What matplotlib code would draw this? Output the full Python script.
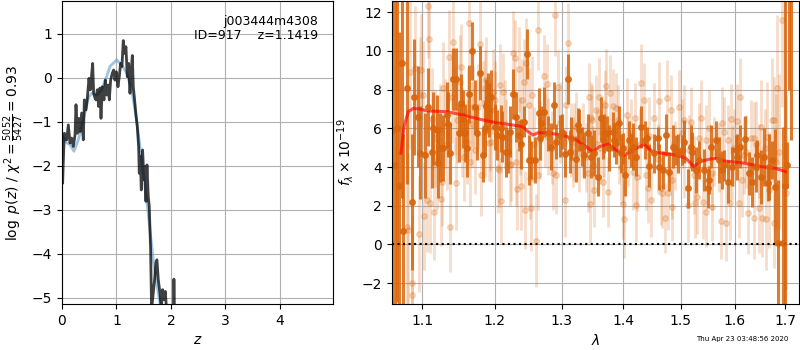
import matplotlib
matplotlib.use("Agg")
import matplotlib.pyplot as plt
from matplotlib.ticker import NullLocator, FixedLocator, FixedFormatter

# --- p(z) panel ---
pz_z = [0.012, 0.024, 0.043, 0.086, 0.116, 0.147, 0.177, 0.208, 0.239, 0.257,
        0.281, 0.306, 0.330, 0.361, 0.391, 0.410, 0.440, 0.465, 0.495, 0.520,
        0.544, 0.563, 0.581, 0.606, 0.624, 0.648, 0.673, 0.697, 0.716, 0.740,
        0.771, 0.795, 0.820, 0.844, 0.869, 0.893, 0.924, 0.948, 0.972, 0.997,
        1.028, 1.052, 1.076, 1.101, 1.125, 1.150, 1.174, 1.199, 1.223, 1.248,
        1.272, 1.291, 1.309, 1.333, 1.358, 1.382, 1.407, 1.419, 1.437, 1.456,
        1.480, 1.505, 1.523, 1.541, 1.560, 1.584, 1.602, 1.627, 1.645, 1.676,
        1.700, 1.725, 1.743, 1.768, 1.798, 1.823, 1.847, 1.872, 1.896, 1.920,
        1.980, 2.045, 2.055, 2.067]
pz_logp = [-2.39, -1.90, -1.26, -1.41, -1.07, -1.48, -1.37, -1.56, -1.30, -0.61,
           -1.26, -0.92, -1.22, -0.80, -1.41, -0.50, -0.73, -0.46, -0.01, -0.27,
           0.07, 0.33, -0.35, -0.46, -0.50, -0.27, -0.65, -0.23, -0.92, -0.20,
           -0.50, -0.05, -0.39, -0.16, -0.50, -0.05, 0.11, 0.18, -0.05, 0.14,
           -0.20, 0.03, 0.33, 0.26, 0.85, 0.56, 0.71, 0.03, 0.33, -0.35,
           0.18, 0.51, -0.20, -0.50, -0.84, -1.11, -1.56, -2.17, -1.79, -2.55,
           -1.64, -2.32, -2.02, -2.81, -1.98, -2.70, -2.92, -3.91, -5.27, -4.89,
           -4.59, -4.21, -4.14, -4.59, -4.89, -5.27, -4.82, -5.05, -4.86, -5.27,
           -6.00, -5.60, -4.58, -5.50]

smooth_z = [0.012, 0.086, 0.147, 0.220, 0.300, 0.391, 0.483, 0.544, 0.636, 0.728,
            0.820, 0.881, 1.003, 1.095, 1.187, 1.278, 1.370, 1.462, 1.554, 1.615,
            1.676, 1.737, 1.798, 1.859]
smooth_logp = [-1.33, -1.48, -1.52, -1.67, -1.41, -0.95, -0.46, -0.35, -0.39, -0.27,
               0.03, 0.26, 0.41, 0.30, 0.11, -0.27, -0.95, -1.86, -2.77, -3.45,
               -4.14, -4.67, -5.12, -5.50]

obj_name = "j003444m4308"
obj_id = 917
z_best = 1.1419
chi2_num, chi2_den = 5052, 5427

# --- spectrum panel: binned (dark) points ---
wave_bin = [1.0612, 1.0645, 1.0670, 1.0696, 1.0731, 1.0751, 1.0795, 1.0864, 1.0890, 1.0938,
            1.0968, 1.1034, 1.1074, 1.1123, 1.1190, 1.1234, 1.1279, 1.1325, 1.1373, 1.1414,
            1.1460, 1.1491, 1.1528, 1.1574, 1.1634, 1.1682, 1.1714, 1.1746, 1.1784, 1.1831,
            1.1879, 1.1916, 1.1950, 1.2031, 1.2108, 1.2156, 1.2215, 1.2263, 1.2313, 1.2387,
            1.2470, 1.2500, 1.2586, 1.2646, 1.2672, 1.2726, 1.2829, 1.2880, 1.2968, 1.3057,
            1.3098, 1.3135, 1.3229, 1.3282, 1.3362, 1.3415, 1.3470, 1.3523, 1.3577, 1.3632,
            1.3686, 1.3768, 1.3823, 1.3879, 1.3962, 1.4029, 1.4101, 1.4157, 1.4214, 1.4300,
            1.4373, 1.4443, 1.4529, 1.4616, 1.4686, 1.4734, 1.4792, 1.4851, 1.4940, 1.5048,
            1.5127, 1.5182, 1.5211, 1.5273, 1.5333, 1.5425, 1.5505, 1.5549, 1.5643, 1.5704,
            1.5766, 1.5880, 1.5956, 1.6052, 1.6098, 1.6199, 1.6277, 1.6341, 1.6420, 1.6506,
            1.6572, 1.6671, 1.6791, 1.6858, 1.6953, 1.6990, 1.7028, 1.7075, 1.7110,
            # bars without a visible marker
            1.1141, 1.1214, 1.1349, 1.1547, 1.1602, 1.1855, 1.1902, 1.1997, 1.2094, 1.2191,
            1.2351, 1.2421, 1.2536, 1.2687, 1.2789, 1.2917, 1.3010, 1.3151, 1.3266, 1.3319,
            1.3670, 1.3727, 1.3842, 1.3922, 1.3988, 1.4130, 1.4396, 1.4587, 1.4911, 1.5029,
            1.5517, 1.5798, 1.6020, 1.6441, 1.6657, 1.6725]
flux_bin = [5.9, 4.1, 6.0, 3.0, 9.4, 0.69, 8.1, 2.2, 7.6, 6.6,
            4.74, 4.6, 7.1, 4.8, 5.9, 5.0, 5.0, 6.7, 4.7, 8.55,
            8.55, 5.75, 7.3, 5.75, 7.76, 10.0, 7.1, 5.74, 8.85, 4.62,
            7.17, 6.95, 7.64, 5.65, 5.57, 4.79, 5.83, 7.76, 6.6, 5.19,
            9.84, 4.36, 4.36, 6.78, 5.48, 6.86, 5.05, 7.19, 5.6, 4.67,
            8.54, 4.79, 4.4, 5.91, 4.62, 5.74, 4.53, 4.71, 3.5, 6.52,
            5.74, 4.97, 5.83, 5.23, 4.71, 3.59, 5.4, 5.05, 4.53, 6.08,
            5.4, 4.07, 4.71, 4.01, 3.84, 5.65, 3.76, 5.05, 4.71, 5.31,
            2.9, 5.05, 4.79, 3.84, 4.36, 3.84, 2.9, 5.05, 5.4, 4.36,
            3.84, 3.24, 4.01, 4.53, 5.05, 5.46, 3.67, 3.24, 4.01, 3.5,
            4.53, 4.01, 2.98, 0.05, 0.05, 3.0, 4.1, 16.0, 14.0,
            6.0, 4.2, 6.2, 6.5, 5.0, 6.0, 7.55, 6.08, 6.0, 4.79,
            5.65, 6.34, 4.36, 6.26, 5.74, 5.31, 5.83, 5.48, 6.17, 5.05,
            5.4, 5.74, 5.4, 6.26, 4.97, 4.88, 5.48, 5.48, 4.88, 4.88,
            3.33, 4.1, 4.88, 4.62, 3.16, 4.36]
err_bin = [10.0, 9.0, 9.0, 8.0, 7.0, 5.0, 5.0, 3.5, 3.0, 2.6,
           2.4, 2.2, 2.0, 1.9, 1.8, 1.8, 1.7, 1.7, 1.6, 1.6,
           1.6, 1.5, 1.5, 1.5, 1.5, 1.5, 1.4, 1.4, 1.4, 1.4,
           1.4, 1.4, 1.4, 1.3, 1.3, 1.3, 1.3, 1.3, 1.3, 1.3,
           1.3, 1.3, 1.2, 1.3, 1.1, 1.3, 1.2, 1.2, 1.1, 1.2,
           1.3, 1.1, 1.2, 1.1, 1.2, 1.0, 1.1, 1.2, 1.0, 1.1,
           1.0, 1.2, 1.0, 1.1, 1.0, 1.1, 1.0, 1.2, 1.0, 1.1,
           1.0, 1.1, 1.0, 1.2, 1.0, 1.1, 1.0, 1.1, 1.0, 1.1,
           1.0, 1.1, 1.0, 1.2, 1.0, 1.1, 1.0, 1.1, 1.0, 1.2,
           1.0, 1.1, 1.0, 1.2, 1.1, 1.2, 1.1, 1.3, 1.3, 1.4,
           1.5, 1.7, 3.0, 3.3, 6.0, 10.0, 1.2, 8.0, 8.6,
           1.9, 1.8, 1.7, 1.5, 1.5, 1.4, 1.3, 1.2, 1.2, 1.1,
           0.8, 0.8, 1.0, 0.9, 0.9, 0.9, 0.9, 1.1, 0.9, 1.0,
           1.0, 0.9, 0.9, 0.9, 0.8, 0.9, 0.6, 0.6, 0.8, 0.8,
           0.7, 0.8, 0.8, 0.8, 0.9, 1.0]

# --- spectrum panel: unbinned (light) points ---
wave_raw = [1.0664, 1.0795, 1.0816, 1.0838, 1.0860, 1.0870, 1.0903, 1.0955, 1.0968, 1.0981,
            1.1012, 1.1025, 1.1057, 1.1078, 1.1091, 1.1107, 1.1154, 1.1167, 1.1234, 1.1247,
            1.1265, 1.1279, 1.1301, 1.1356, 1.1369, 1.1392, 1.1414, 1.1451, 1.1471, 1.1505,
            1.1519, 1.1564, 1.1606, 1.1619, 1.1630, 1.1644, 1.1690, 1.1714, 1.1760, 1.1784,
            1.1808, 1.1855, 1.1879, 1.1911, 1.1926, 1.1947, 1.1973, 1.1997, 1.2045, 1.2079,
            1.2094, 1.2118, 1.2142, 1.2215, 1.2263, 1.2288, 1.2313, 1.2321, 1.2351, 1.2362,
            1.2377, 1.2392, 1.2427, 1.2442, 1.2463, 1.2511, 1.2526, 1.2548, 1.2611, 1.2636,
            1.2661, 1.2726, 1.2745, 1.2771, 1.2795, 1.2871, 1.2891, 1.2917, 1.2942, 1.2968,
            1.3046, 1.3073, 1.3098, 1.3151, 1.3203, 1.3230, 1.3282, 1.3335, 1.3426, 1.3442,
            1.3458, 1.3474, 1.3490, 1.3506, 1.3523, 1.3550, 1.3604, 1.3620, 1.3658, 1.3686,
            1.3714, 1.3740, 1.3780, 1.3834, 1.3906, 1.3933, 1.3958, 1.3988, 1.4017, 1.4055,
            1.4130, 1.4158, 1.4214, 1.4237, 1.4300, 1.4356, 1.4382, 1.4443, 1.4472, 1.4529,
            1.4616, 1.4646, 1.4721, 1.4747, 1.4774, 1.4822, 1.4850, 1.4970, 1.5029, 1.5060,
            1.5132, 1.5181, 1.5241, 1.5302, 1.5333, 1.5364, 1.5406, 1.5456, 1.5517, 1.5579,
            1.5610, 1.5736, 1.5766, 1.5798, 1.5826, 1.5906, 1.5925, 1.5988, 1.6040, 1.6098,
            1.6148, 1.6180, 1.6264, 1.6311, 1.6375, 1.6414, 1.6473, 1.6513, 1.6606, 1.6632,
            1.6671, 1.6725, 1.6805, 1.6838, 1.6872, 1.6926, 1.7008,
            1.1855, 1.2004, 1.2059, 1.2240, 1.2500, 1.2642, 1.3172, 1.3702, 1.3871, 1.4202,
            1.4414, 1.4665, 1.4836, 1.5051, 1.5250, 1.5467, 1.5567, 1.5880, 1.6084, 1.6385,
            1.6539, 1.6771, 1.6781, 1.2160, 1.2580, 1.2850, 1.3380, 1.3560, 1.4080, 1.4290,
            1.4590, 1.4900, 1.5150, 1.5700, 1.5950, 1.6220, 1.6480, 1.6600, 1.1130, 1.1200,
            1.1330, 1.1440, 1.1540, 1.1680, 1.1830]
flux_raw = [4.1, 0.9, 0.74, 8.93, -1.99, -2.62, 9.1, 0.52, 7.72, 9.02,
            7.72, 1.48, 2.29, 12.33, 10.6, 2.15, 1.69, 5.48, 5.91, 2.34,
            3.24, 8.07, 6.26, 9.7, 0.88, 7.64, 10.47, 3.16, 6.43, 8.41,
            9.19, 4.53, 5.31, 6.78, 11.47, 4.27, 7.12, 4.88, 7.12, 10.35,
            3.59, 5.8, 8.5, 5.26, 6.08, 5.31, 7.89, 6.95, 3.93, 8.24,
            2.24, 7.89, 6.2, 4.1, 9.88, 9.62, 4.27, 2.85, 9.05, 5.6,
            3.02, 7.46, 8.41, 1.77, 9.39, 3.41, 1.86, 7.72, 0.19, 11.09,
            5.4, 8.71, 5.9, 8.28, 5.57, 3.67, 11.86, 3.59, 8.15, 6.3,
            2.29, 7.21, 10.4, 5.4, 5.3, 6.08, 4.71, 5.4, 3.67, 7.6,
            2.08, 6.52, 6.43, 4.1, 2.81, 6.95, 7.64, 5.0, 3.24, 5.48,
            8.19, 2.72, 7.81, 7.15, 6.43, 5.1, 4.01, 2.08, 1.29, 6.69,
            5.74, 3.76, 2.03, 3.5, 8.36, 7.46, 3.59, 5.6, 2.29, 6.52,
            7.41, 2.9, 1.35, 7.55, 2.64, 6.95, 3.33, 7.12, 5.74, 4.4,
            2.03, 6.34, 3.59, 2.46, 5.5, 6.52, 2.2, 1.69, 6.0, 3.67,
            4.8, 1.22, 6.26, 5.83, 1.12, 2.12, 6.47, 5.0, 6.39, 7.64,
            3.33, 4.6, 1.6, 5.48, 1.35, 5.2, 1.86, 6.08, 1.29, 5.57,
            2.81, 6.43, 4.27, 8.07, 4.79, 11.6, 2.67,
            8.07, 7.46, 3.84, 4.15, 7.2, 3.59, 4.79, 7.2, 7.04, 6.52,
            2.9, 2.64, 1.95, 6.43, 2.15, 5.4, 1.95, 5.4, 2.12, 5.48,
            1.35, 6.43, 1.1, 5.5, 5.2, 5.0, 4.5, 5.2, 4.8, 5.2,
            4.4, 4.6, 4.9, 4.5, 4.2, 4.8, 4.3, 5.0, 6.5, 4.3,
            5.2, 6.9, 5.8, 6.2, 7.3]
err_raw = [7.0, 4.5, 4.0, 4.0, 3.5, 3.5, 3.2, 3.0, 3.0, 2.9,
           2.8, 2.8, 2.7, 2.7, 2.6, 2.6, 2.5, 2.5, 2.4, 2.4,
           2.3, 2.4, 2.3, 2.4, 2.3, 2.4, 2.3, 2.4, 2.2, 2.4,
           2.2, 2.3, 2.2, 2.4, 2.2, 2.3, 2.1, 2.3, 2.2, 2.4,
           2.1, 2.3, 2.2, 2.0, 2.3, 2.1, 2.2, 2.0, 2.3, 2.1,
           2.2, 2.0, 2.3, 2.1, 2.2, 2.0, 2.3, 2.1, 2.2, 2.0,
           2.3, 2.1, 2.2, 2.0, 2.3, 2.1, 2.2, 2.0, 2.4, 2.1,
           2.0, 2.1, 1.9, 2.1, 2.0, 1.9, 2.1, 2.0, 1.9, 2.1,
           1.9, 2.0, 2.1, 1.9, 2.0, 1.8, 2.0, 1.9, 2.0, 1.8,
           2.0, 1.9, 1.8, 2.0, 1.9, 1.8, 2.0, 1.9, 1.8, 2.0,
           1.9, 1.8, 2.0, 1.9, 1.8, 2.0, 1.9, 1.8, 2.0, 1.9,
           1.8, 2.0, 1.9, 1.8, 2.0, 1.9, 1.8, 2.0, 1.9, 1.8,
           2.0, 1.9, 1.8, 2.0, 1.9, 1.8, 2.0, 1.9, 1.8, 2.0,
           1.9, 1.8, 2.0, 1.9, 1.8, 2.0, 1.9, 1.8, 2.0, 1.9,
           1.8, 2.0, 1.9, 1.8, 2.0, 1.9, 1.8, 2.0, 1.9, 2.0,
           1.9, 2.0, 2.1, 2.0, 2.1, 2.2, 2.3, 2.4, 2.6, 2.8,
           3.0, 3.2, 3.5, 3.8, 4.0, 4.5, 5.0,
           2.0, 2.0, 1.9, 1.9, 1.9, 1.8, 1.8, 1.8, 1.8, 1.8,
           1.8, 1.8, 1.8, 1.8, 1.8, 1.8, 1.8, 1.8, 1.8, 1.9,
           2.0, 2.2, 2.3, 2.0, 1.9, 1.9, 1.8, 1.8, 1.8, 1.8,
           1.8, 1.8, 1.8, 1.8, 1.9, 1.9, 1.9, 2.0, 2.6, 2.5,
           2.4, 2.3, 2.3, 2.2, 2.2]

# --- best-fit model ---
wave_model = [1.0722, 1.0760, 1.0816, 1.0880, 1.0968, 1.1057, 1.1325, 1.1551, 1.1784, 1.2022,
              1.2263, 1.2412, 1.2486, 1.2561, 1.2636, 1.2763, 1.3020, 1.3229, 1.3389, 1.3496,
              1.3604, 1.3740, 1.3879, 1.4017, 1.4158, 1.4356, 1.4500, 1.4674, 1.4911, 1.5090,
              1.5241, 1.5333, 1.5517, 1.5642, 1.5798, 1.6084, 1.6277, 1.6539, 1.6805, 1.7008]
flux_model = [4.71, 6.08, 6.86, 7.03, 7.00, 6.90, 6.86, 6.69, 6.47, 6.29,
              6.17, 6.08, 5.83, 5.65, 5.77, 5.77, 5.65, 5.40, 5.05, 4.79,
              5.05, 5.19, 4.88, 4.62, 4.88, 5.17, 4.79, 4.71, 4.62, 4.45,
              4.01, 4.27, 4.40, 4.45, 4.31, 4.24, 4.15, 4.01, 3.93, 3.76]

wave_ticks = [1.1, 1.2, 1.3, 1.4, 1.5, 1.6, 1.7]
stamp = "Thu Apr 23 03:48:56 2020"

spec_color = "#d9650c"

fig = plt.figure(figsize=(8, 3.5), dpi=100)
ax1 = fig.add_axes([0.0775, 0.131, 0.339, 0.866])
ax2 = fig.add_axes([0.4896, 0.131, 0.5095, 0.866])

ax1.plot(smooth_z, smooth_logp, color="#5a9fd4", alpha=0.6, lw=2)
ax1.plot(pz_z, pz_logp, color="k", alpha=0.75, lw=2)
ax1.set_xlim(0, 4.98)
ax1.set_ylim(-5.15, 1.75)
ax1.set_xticks([0, 1, 2, 3, 4])
ax1.set_yticks([-5, -4, -3, -2, -1, 0, 1])
ax1.grid(True, color="#b0b0b0")
ax1.set_xlabel(r"$z$")
ax1.set_ylabel(r"$\log\ p(z)$ / $\chi^2=\frac{%d}{%d}=%.2f$"
               % (chi2_num, chi2_den, chi2_num / chi2_den))
ax1.text(0.945, 0.955, "%s\nID=%d    z=%.4f" % (obj_name, obj_id, z_best),
         ha="right", va="top", transform=ax1.transAxes, fontsize=9,
         linespacing=1.1)

ax2.errorbar(wave_raw, flux_raw, yerr=err_raw, color=spec_color, alpha=0.22,
             marker="o", ms=4, linestyle="none", elinewidth=2)
ax2.errorbar(wave_bin, flux_bin, yerr=err_bin, color=spec_color, alpha=0.85,
             marker="o", ms=4, linestyle="none", elinewidth=2.2)
ax2.plot(wave_model, flux_model, color="red", alpha=0.65, lw=2.2)
ax2.axhline(0, color="k", linestyle=":", lw=1.5)

ax2.set_xscale("log")
ax2.set_xlim(1.0603, 1.729)
ax2.set_ylim(-3.09, 12.58)
ax2.xaxis.set_major_locator(FixedLocator(wave_ticks))
ax2.xaxis.set_major_formatter(FixedFormatter(["%.1f" % w for w in wave_ticks]))
ax2.xaxis.set_minor_locator(NullLocator())
ax2.set_yticks([-2, 0, 2, 4, 6, 8, 10, 12])
ax2.grid(True, color="#b0b0b0")
ax2.set_xlabel(r"$\lambda$")
ax2.set_ylabel(r"$f_\lambda\times 10^{-19}$")

fig.text(0.985, 0.031, stamp, ha="right", va="center", fontsize=5)

fig.savefig("out.png", dpi=100)
